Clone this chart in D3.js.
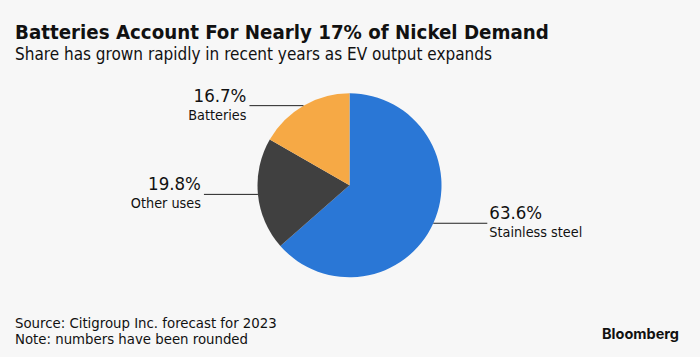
<!DOCTYPE html>
<html><head><meta charset="utf-8">
<script src="https://cdn.jsdelivr.net/npm/d3@7"></script>
<style>
html,body{margin:0;padding:0;background:#f7f7f7;}
svg{display:block;}
</style></head>
<body>
<svg id="c" width="700" height="357"></svg>
<script>
const categories = ["Stainless steel", "Other uses", "Batteries"];
const values = [63.6, 19.8, 16.7];
const valueLabels = ["63.6%", "19.8%", "16.7%"];
const colors = ["#2a77d6", "#404040", "#f6a945"];

const W = 700, H = 357;
const svg = d3.select("#c");
svg.append("rect").attr("width", W).attr("height", H).attr("fill", "#f7f7f7");

const condensed = "'DejaVu Sans Condensed', 'DejaVu Sans', sans-serif";

svg.append("text").attr("x", 15).attr("y", 39)
  .attr("font-family", condensed).attr("font-weight", "bold").attr("font-stretch", "condensed")
  .attr("font-size", 20.3).attr("fill", "#111")
  .text("Batteries Account For Nearly 17% of Nickel Demand");
svg.append("text").attr("x", 15).attr("y", 59.5)
  .attr("font-family", condensed).attr("font-stretch", "condensed")
  .attr("font-size", 17).attr("fill", "#111")
  .text("Share has grown rapidly in recent years as EV output expands");

const cx = 349.5, cy = 185.3, r = 92;
const pie = d3.pie().sort(null).value(d => d.v);
const data = categories.map((c, i) => ({c, v: values[i], lab: valueLabels[i], col: colors[i]}));
const arcs = pie(data);
const arc = d3.arc().innerRadius(0).outerRadius(r);
const g = svg.append("g").attr("transform", `translate(${cx},${cy})`);
g.selectAll("path").data(arcs).join("path")
  .attr("d", arc).attr("fill", d => d.data.col);

const lineLen = 54;
arcs.forEach(a => {
  const ang = (a.startAngle + a.endAngle) / 2;
  const x0 = cx + r * Math.sin(ang);
  const y0 = cy - r * Math.cos(ang);
  const right = Math.sin(ang) > 0;
  const x1 = right ? x0 + lineLen : x0 - lineLen;
  svg.append("line").attr("x1", x0).attr("y1", y0).attr("x2", x1).attr("y2", y0)
    .attr("stroke", "#222").attr("stroke-width", 1);
  const tx = right ? x1 + 2 : x1 - 3;
  const anchor = right ? "start" : "end";
  svg.append("text").attr("x", tx).attr("y", y0 - 4)
    .attr("text-anchor", anchor).attr("font-family", condensed).attr("font-stretch", "condensed")
    .attr("font-size", 18.5).attr("fill", "#111").text(a.data.lab);
  svg.append("text").attr("x", tx).attr("y", y0 + 14)
    .attr("text-anchor", anchor).attr("font-family", condensed).attr("font-stretch", "condensed")
    .attr("font-size", 14.3).attr("fill", "#111").text(a.data.c);
});

svg.append("text").attr("x", 15).attr("y", 328)
  .attr("font-family", condensed).attr("font-stretch", "condensed")
  .attr("font-size", 14.8).attr("fill", "#111")
  .text("Source: Citigroup Inc. forecast for 2023");
svg.append("text").attr("x", 15).attr("y", 344)
  .attr("font-family", condensed).attr("font-stretch", "condensed")
  .attr("font-size", 14.8).attr("fill", "#111")
  .text("Note: numbers have been rounded");
svg.append("text").attr("x", 679).attr("y", 339).attr("text-anchor", "end")
  .attr("font-family", "Inter, 'Open Sans', sans-serif").attr("font-weight", "bold")
  .attr("font-size", 14.5).attr("fill", "#111")
  .text("Bloomberg");
</script>
</body></html>
